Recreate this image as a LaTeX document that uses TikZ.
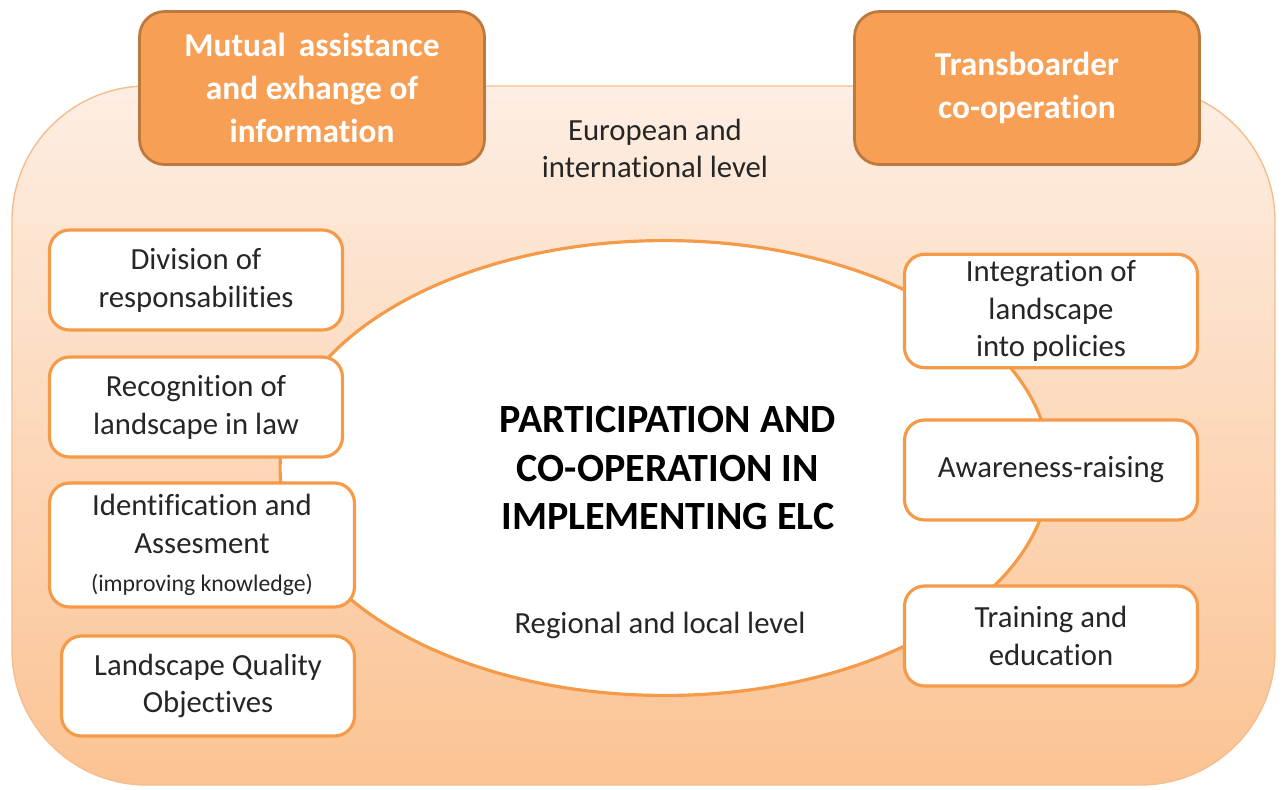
\documentclass[tikz,border=0pt]{standalone}
\usepackage{fontspec}
\setmainfont[Ligatures=NoCommon]{Carlito}
\usetikzlibrary{shapes.geometric, positioning}

\definecolor{elcorange}{HTML}{F79F55}
\definecolor{elcdark}{HTML}{BD7A3E}
\definecolor{elcline}{HTML}{F59A48}
\definecolor{elctop}{HTML}{FDEEE3}
\definecolor{elcbottom}{HTML}{FBC393}
\definecolor{elcrim}{HTML}{F6BD8C}
\definecolor{elctext}{HTML}{262626}

\tikzset{
  topbox/.style={rectangle, rounded corners=0.5cm, draw=elcdark, line width=1.6pt,
    fill=elcorange, text=white, align=center, minimum width=6.9cm, minimum height=3.06cm,
    font=\fontsize{19}{24.5}\selectfont\bfseries},
  taskbox/.style={rectangle, rounded corners=0.4cm, draw=elcline, line width=1.8pt,
    fill=white, text=elctext, align=center, minimum width=5.86cm, minimum height=2cm,
    font=\fontsize{17.5}{21.5}\selectfont},
  levellabel/.style={align=center, text=elctext, font=\fontsize{17.5}{21}\selectfont}
}

\begin{document}
\begin{tikzpicture}[x=0.02cm, y=-0.02cm]
\useasboundingbox (0,0) rectangle (1283,789);

% background panel
\draw[elcrim, line width=0.8pt, top color=elctop, bottom color=elcbottom, rounded corners=2.7cm]
  (12,86) rectangle (1275,785);

% central ellipse
\node (core) [ellipse, draw=elcline, line width=1.8pt, fill=white,
  minimum width=15.4cm, minimum height=9.1cm] at (665,468) {};

% top boxes
\node (mutual) [topbox] at (312,88) {Mutual\, assistance\\and exhange of\\information};
\node (transb) [topbox] at (1027,88) {Transboarder\\co-operation};

% level labels
\node (intl) [levellabel] at (655,148) {European and\\international level};
\node (regional) [levellabel] at (660,625) {Regional and local level};

% centre title
\node (title) [align=center, text=black, font=\fontsize{22.8}{27.5}\selectfont\bfseries]
  at (668,468) {PARTICIPATION AND\\CO-OPERATION IN\\IMPLEMENTING ELC};

% left tasks
\node (division) [taskbox] at (196,280) {Division of\\responsabilities};
\node (recog) [taskbox] at (196,407) {Recognition of\\landscape in law};
\node (ident) [taskbox, minimum width=6.1cm, minimum height=2.48cm] at (202,545)
  {Identification and\\Assesment\\{\fontsize{13.5}{16}\selectfont(improving knowledge)}};
\node (quality) [taskbox] at (208,686) {Landscape Quality\\Objectives};

% right tasks
\node (integr) [taskbox, minimum height=2.26cm] at (1051,311) {Integration of\\landscape\\into policies};
\node (aware) [taskbox] at (1051,470) {Awareness-raising};
\node (train) [taskbox] at (1051,636) {Training and\\education};

\end{tikzpicture}
\end{document}
